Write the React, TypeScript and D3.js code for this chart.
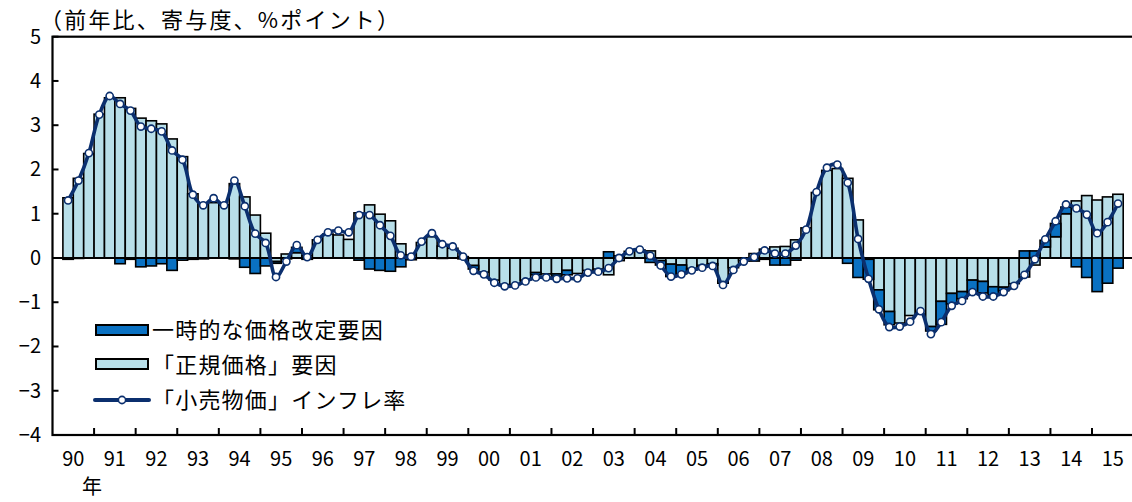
import React from 'react';
import * as d3 from 'd3';

// year labels on the x axis (1990 - 2015), data starts at 1990 Q2
const yearLabels = ['90', '91', '92', '93', '94', '95', '96', '97', '98', '99', '00', '01', '02', '03',
  '04', '05', '06', '07', '08', '09', '10', '11', '12', '13', '14', '15'];

// 「正規価格」要因 (regular price factor)
const regular = [
  1.36, 1.80, 2.36,
  3.25, 3.62, 3.62, 3.38,
  3.16, 3.10, 3.03, 2.69,
  2.29, 1.45, 1.22, 1.25,
  1.20, 1.68, 1.38, 0.97,
  0.56, -0.08, 0.09, 0.12,
  0.05, 0.41, 0.54, 0.52,
  0.42, 1.02, 1.20, 0.99,
  0.84, 0.32, 0.07, 0.35,
  0.48, 0.27, 0.22, 0.03,
  -0.17, -0.32, -0.50, -0.60,
  -0.60, -0.50, -0.33, -0.36,
  -0.36, -0.28, -0.35, -0.28,
  -0.25, -0.38, -0.06, 0.15,
  0.18, 0.16, -0.06, -0.14,
  -0.16, -0.24, -0.17, -0.13,
  -0.57, -0.22, -0.06, 0.10,
  0.20, 0.25, 0.26, 0.41,
  0.68, 1.48, 1.98, 2.02,
  1.80, 0.86, -0.03, -0.72,
  -1.21, -1.47, -1.30, -1.27,
  -1.55, -0.98, -0.80, -0.76,
  -0.50, -0.53, -0.65, -0.66,
  -0.58, -0.43, -0.16, 0.25,
  0.48, 1.00, 1.29, 1.41,
  1.31, 1.38, 1.44,
];

// 一時的な価格改定要因 (temporary price change factor)
const temporary = [
  -0.03, -0.01, 0,
  0, 0, -0.13, -0.03,
  -0.20, -0.18, -0.13, -0.28,
  -0.05, -0.03, -0.02, 0,
  0, -0.02, -0.21, -0.35,
  -0.18, -0.04, -0.02, 0.12,
  -0.03, 0, 0, 0,
  0, -0.05, -0.25, -0.28,
  -0.30, -0.20, -0.04, 0,
  0, -0.01, 0, -0.02,
  -0.08, 0, 0, 0,
  0, 0, -0.05, 0,
  -0.05, -0.10, 0, 0,
  0, 0.14, 0.05, 0,
  0, -0.10, -0.10, -0.28,
  -0.20, -0.03, -0.04, -0.03,
  0, 0, 0, -0.07,
  -0.03, -0.16, -0.16, -0.05,
  0, 0, 0, 0,
  -0.12, -0.44, -0.45, -0.45,
  -0.30, 0, 0, 0,
  -0.10, -0.52, -0.24, -0.16,
  -0.26, -0.26, -0.19, -0.08,
  0, 0.16, 0.16, 0.15,
  0.30, 0.15, -0.20, -0.44,
  -0.76, -0.57, -0.23,
];

// 「小売物価」インフレ率 (retail price inflation)
const inflation = [
  1.30, 1.75, 2.37,
  3.24, 3.66, 3.48, 3.33,
  2.97, 2.92, 2.86, 2.43,
  2.22, 1.43, 1.19, 1.35,
  1.19, 1.75, 1.17, 0.55,
  0.34, -0.43, -0.08, 0.29,
  0.02, 0.41, 0.58, 0.62,
  0.58, 0.97, 0.97, 0.74,
  0.50, 0.06, 0.03, 0.37,
  0.56, 0.31, 0.26, 0.03,
  -0.29, -0.37, -0.56, -0.64,
  -0.62, -0.53, -0.44, -0.44,
  -0.47, -0.46, -0.46, -0.33,
  -0.31, -0.23, 0.00, 0.15,
  0.19, 0.05, -0.17, -0.42,
  -0.37, -0.28, -0.22, -0.18,
  -0.61, -0.27, -0.08, 0.02,
  0.17, 0.10, 0.10, 0.28,
  0.64, 1.49, 2.04, 2.11,
  1.70, 0.43, -0.47, -1.16,
  -1.56, -1.55, -1.44, -1.20,
  -1.72, -1.45, -1.08, -0.97,
  -0.77, -0.87, -0.87, -0.77,
  -0.63, -0.38, -0.03, 0.42,
  0.83, 1.21, 1.12, 0.98,
  0.56, 0.81, 1.23,
];

const yTicks = [5, 4, 3, 2, 1, 0, -1, -2, -3, -4];

const legendItems = ['一時的な価格改定要因', '「正規価格」要因', '「小売物価」インフレ率'];

const width = 1132, height = 502;
const plotLeft = 52.5, plotRight = 1133.6, plotTop = 36.7, plotBottom = 435;

const lightBlue = '#b8dfe9';
const darkBlue = '#0a71c2';
const navy = '#0b2f6e';
const font = '"Noto Sans CJK JP", "Noto Sans", sans-serif';

export default function App() {
  const quarters = yearLabels.flatMap((yr) => ['Q1', 'Q2', 'Q3', 'Q4'].map((q) => yr + q));
  const dataQuarters = quarters.slice(1, 1 + inflation.length);

  const x = d3.scaleBand().domain(quarters).range([plotLeft, plotRight]).padding(0);
  const y = d3.scaleLinear().domain([-4, 5]).range([plotBottom, plotTop]);

  const rows = dataQuarters.map((q, i) => ({ q, regular: regular[i], temporary: temporary[i] }));
  const stacked = d3.stack<any>().keys(['regular', 'temporary']).offset(d3.stackOffsetDiverging)(rows);
  const fills: Record<string, string> = { regular: lightBlue, temporary: darkBlue };

  const cx = (q: string) => (x(q) as number) + x.bandwidth() / 2;
  const pts = dataQuarters.map((q, i) => [cx(q), y(inflation[i])] as [number, number]);
  const path = d3.line().curve(d3.curveCatmullRom.alpha(0.5))(pts);

  const yearStarts = yearLabels.map((yr) => x(yr + 'Q1') as number);
  const yearW = x.bandwidth() * 4;

  return (
    <div style={{ position: 'absolute', left: 0, top: 0 }}>
      <svg width={width} height={height} style={{ display: 'block', background: '#fff' }}>
        <text x={40} y={28} fontSize={22} letterSpacing={2.2} fontFamily={font} fill="#000">（前年比、寄与度、%ポイント）</text>

        {/* bars */}
        {stacked.map((s) => (
          <g key={s.key}>
            {s.map((d, i) => (
              <rect
                key={i}
                x={x(dataQuarters[i])}
                width={x.bandwidth()}
                y={y(Math.max(d[0], d[1]))}
                height={Math.abs(y(d[0]) - y(d[1]))}
                fill={fills[s.key]}
                stroke="#000"
                strokeWidth={1.6}
              />
            ))}
          </g>
        ))}

        {/* zero line */}
        <line x1={plotLeft} x2={plotRight} y1={y(0)} y2={y(0)} stroke="#000" strokeWidth={2} />

        {/* inflation line */}
        <path d={path || ''} fill="none" stroke={navy} strokeWidth={3.6} strokeLinejoin="round" />
        {pts.map((p, i) => (
          <circle key={i} cx={p[0]} cy={p[1]} r={3.6} fill="#fff" stroke={navy} strokeWidth={1.6} />
        ))}

        {/* frame */}
        <rect x={plotLeft} y={plotTop} width={plotRight - plotLeft} height={plotBottom - plotTop}
          fill="none" stroke="#000" strokeWidth={2.2} />

        {/* y axis */}
        {yTicks.map((t) => (
          <g key={t}>
            <line x1={plotLeft} x2={plotLeft + 6} y1={y(t)} y2={y(t)} stroke="#000" strokeWidth={2} />
            <text x={41} y={y(t) + 7} textAnchor="end" fontSize={20} fontFamily={font} fill="#000">
              {t < 0 ? '−' + Math.abs(t) : t}
            </text>
          </g>
        ))}

        {/* x axis */}
        {yearStarts.map((xs, i) => (
          <g key={yearLabels[i]}>
            {i > 0 && <line x1={xs} x2={xs} y1={plotBottom} y2={plotBottom - 7} stroke="#000" strokeWidth={2} />}
            <text x={xs + yearW / 2} y={466} textAnchor="middle" fontSize={20} fontFamily={font} fill="#000">
              {yearLabels[i]}
            </text>
          </g>
        ))}
        <text x={92} y={494} textAnchor="middle" fontSize={20} fontFamily={font} fill="#000">年</text>

        {/* legend */}
        <rect x={96} y={325} width={52} height={10} fill={darkBlue} stroke="#000" strokeWidth={2} />
        <rect x={96} y={359} width={52} height={10} fill={lightBlue} stroke="#000" strokeWidth={2} />
        <line x1={95} x2={149} y1={400} y2={400} stroke={navy} strokeWidth={4} strokeLinecap="round" />
        <circle cx={122} cy={400} r={3.6} fill="#fff" stroke={navy} strokeWidth={1.6} />
        {legendItems.map((t, i) => (
          <text key={t} x={152} y={338 + i * 35} fontSize={22} letterSpacing={1.2} fontFamily={font} fill="#000">{t}</text>
        ))}
      </svg>
    </div>
  );
}
